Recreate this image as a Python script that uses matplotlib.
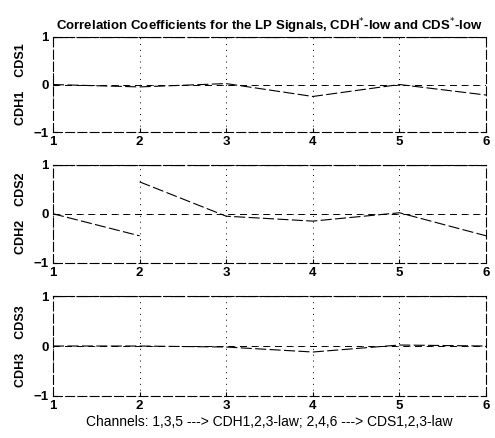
import numpy as np
import matplotlib.pyplot as plt

plt.rcParams['font.family'] = ['Liberation Sans', 'DejaVu Sans']

channels = [1, 2, 3, 4, 5, 6]
# correlation of the LP signal with itself (top edge) and the cross values
self_corr = [1, 1, 1, 1, 1, 1]
cross_1 = [0.0, -0.05, 0.02, -0.25, 0.0, -0.22]
cross_2 = [0.0, -0.45, None, None, None, None]
cross_2b = [None, 0.65, -0.05, -0.15, 0.02, -0.45]
cross_3 = [0.0, 0.0, -0.02, -0.12, 0.02, 0.0]
zero_line = [0, 0, 0, 0, 0, 0]
ylabels = ['CDH1    CDS1', 'CDH2    CDS2', 'CDH3    CDS3']

fig = plt.figure(figsize=(4.95, 4.38), dpi=100)
boxes = [(0.107, 0.698, 0.875, 0.218),
         (0.107, 0.400, 0.875, 0.224),
         (0.107, 0.096, 0.875, 0.228)]

series = [[cross_1], [cross_2, cross_2b], [cross_3]]

for i in range(3):
    ax = fig.add_axes(boxes[i])
    ax.plot(channels, self_corr, color='black', lw=1.6, ls='-.')
    ax.plot(channels, zero_line, color='black', lw=0.7, ls=(0, (6, 6)))
    for s in series[i]:
        y = np.array([np.nan if v is None else v for v in s], dtype=float)
        ax.plot(channels, y, color='black', lw=0.8, ls=(0, (10, 3)))
    ax.set_xlim(1, 6)
    ax.set_ylim(-1, 1)
    ax.set_xticks(channels)
    ax.set_yticks([-1, 0, 1])
    ax.grid(True, color='black', ls=(0, (1, 5)), lw=0.7)
    ax.tick_params(labelsize=9.5, length=3, direction='in', pad=3)
    for lab in ax.get_xticklabels() + ax.get_yticklabels():
        lab.set_fontweight('bold')
    for sp in ax.spines.values():
        sp.set_linestyle((0, (8, 3)))
        sp.set_linewidth(0.8)
    ax.set_ylabel(ylabels[i], fontsize=9, fontweight='bold', labelpad=5)
    if i == 0:
        ax.set_title('Correlation Coefficients for the LP Signals, CDH$^{*}$-low and CDS$^{*}$-low',
                     fontsize=9.5, pad=5, fontweight='bold')
    if i == 2:
        ax.set_xlabel('Channels: 1,3,5 ---> CDH1,2,3-law; 2,4,6 ---> CDS1,2,3-law',
                      fontsize=10, labelpad=2)

fig.savefig('out.png', dpi=100)
